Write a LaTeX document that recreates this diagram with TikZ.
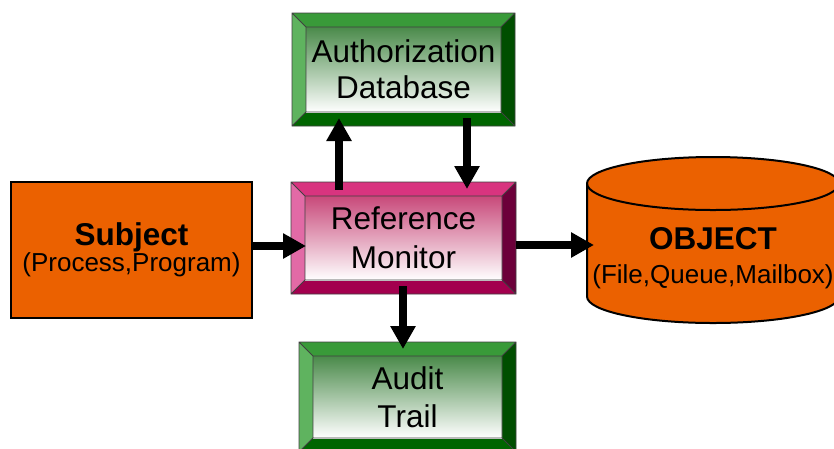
\documentclass[tikz,border=0pt]{standalone}
\usepackage{fontspec}
\setmainfont{Liberation Sans}
\usetikzlibrary{arrows.meta,calc,backgrounds}

\definecolor{orng}{HTML}{EB6100}
\definecolor{gTop}{HTML}{399A39}
\definecolor{gLeft}{HTML}{5FB35F}
\definecolor{gRight}{HTML}{004E00}
\definecolor{gBot}{HTML}{006500}
\definecolor{gShade}{HTML}{4A8A4A}
\definecolor{pTop}{HTML}{D8347F}
\definecolor{pLeft}{HTML}{E26AA6}
\definecolor{pRight}{HTML}{6C003A}
\definecolor{pBot}{HTML}{A3004E}
\definecolor{pShade}{HTML}{C8497A}

\tikzset{
  bevelnode/.style={rectangle, inner sep=0pt, outer sep=0pt, align=center},
  bevelline/.style={draw=black!75, line width=0.75pt},
  flow/.style={line width=8.5pt, -{Triangle[length=23pt,width=24pt]}},
  solidbox/.style={rectangle, inner sep=0pt, outer sep=0pt, align=center,
    fill=orng, draw=black, line width=2.5pt},
}

% raised frame behind a node: four bevels and a shaded face
\newcommand\bevelframe[6]{%
  \begin{scope}[on background layer]
    \path (#1.north west) coordinate (#1o1) (#1.north east) coordinate (#1o2)
          (#1.south east) coordinate (#1o3) (#1.south west) coordinate (#1o4)
          ([xshift=14pt,yshift=-14pt]#1.north west) coordinate (#1i1)
          ([xshift=-14pt,yshift=-14pt]#1.north east) coordinate (#1i2)
          ([xshift=-14pt,yshift=14pt]#1.south east) coordinate (#1i3)
          ([xshift=14pt,yshift=14pt]#1.south west) coordinate (#1i4);
    \fill[#2] (#1o1) -- (#1o2) -- (#1i2) -- (#1i1) -- cycle;
    \fill[#3] (#1o1) -- (#1i1) -- (#1i4) -- (#1o4) -- cycle;
    \fill[#4] (#1o2) -- (#1o3) -- (#1i3) -- (#1i2) -- cycle;
    \fill[#5] (#1o4) -- (#1i4) -- (#1i3) -- (#1o3) -- cycle;
    \shade[top color=#6, bottom color=white] (#1i1) rectangle (#1i3);
    \draw[bevelline] (#1o1) -- (#1o2) -- (#1o3) -- (#1o4) -- cycle
      (#1i1) -- (#1i2) -- (#1i3) -- (#1i4) -- cycle
      (#1o1) -- (#1i1) (#1o2) -- (#1i2) (#1o3) -- (#1i3) (#1o4) -- (#1i4);
  \end{scope}}

\begin{document}
\begin{tikzpicture}[x=1pt, y=-1pt]
\useasboundingbox (0,0) rectangle (834,448);
\clip (0,0) rectangle (834,448);

% boxes
\node[bevelnode, minimum width=223pt, minimum height=113pt,
      font=\fontsize{31.5}{36}\selectfont] (auth) at (403.5,69.5)
      {Authorization\\Database};
\bevelframe{auth}{gTop}{gLeft}{gRight}{gBot}{gShade}

\node[bevelnode, minimum width=225pt, minimum height=112pt,
      font=\fontsize{31.5}{39}\selectfont] (rm) at (403.5,238)
      {Reference\\Monitor};
\bevelframe{rm}{pTop}{pLeft}{pRight}{pBot}{pShade}

\node[bevelnode, minimum width=217pt, minimum height=110pt,
      font=\fontsize{31.5}{38}\selectfont] (audit) at (407.5,397)
      {Audit\\Trail};
\bevelframe{audit}{gTop}{gLeft}{gRight}{gBot}{gShade}

\node[solidbox, minimum width=241pt, minimum height=136pt,
      font=\fontsize{31.5}{24}\selectfont] (subj) at (131.5,250)
      {\textbf{Subject}\\{\fontsize{26}{24}\selectfont(Process,Program)}};

% storage cylinder
\node[rectangle, inner sep=0pt, outer sep=0pt, minimum width=252pt,
      minimum height=166pt] (obj) at (713,240) {};
\filldraw[fill=orng, draw=black, line width=2pt]
  ($(obj.north west)+(0,26.5)$) -- ($(obj.south west)+(0,-26.5)$)
  arc[start angle=180, end angle=360, x radius=126pt, y radius=26.5pt]
  -- ($(obj.north east)+(0,26.5)$)
  arc[start angle=0, end angle=180, x radius=126pt, y radius=26.5pt] -- cycle;
\draw[black, line width=2pt] ($(obj.north west)+(0,26.5)$)
  arc[start angle=180, end angle=360, x radius=126pt, y radius=26.5pt];
\node[align=center, inner sep=0pt, font=\fontsize{31.5}{34}\selectfont]
  (objlbl) at ($(obj.center)+(0,17.7)$)
  {\textbf{OBJECT}\\{\fontsize{26}{34}\selectfont(File,Queue,Mailbox)}};

% connectors
\draw[flow] ($(subj.east)+(0,-4)$) -- ($(rm.west)+(15,8)$);
\draw[flow] ($(rm.east)+(0,7)$) -- ($(obj.west)+(7,5)$);
\draw[flow] ($(rm.north)+(-64.5,8)$) -- ($(auth.south)+(-64.5,-8)$);
\draw[flow] ($(auth.south)+(63.5,-8)$) -- ($(rm.north)+(63.5,7)$);
\draw[flow] ($(rm.south)+(-0.5,-8)$) -- ($(audit.north)+(-4.5,7)$);
\end{tikzpicture}
\end{document}
